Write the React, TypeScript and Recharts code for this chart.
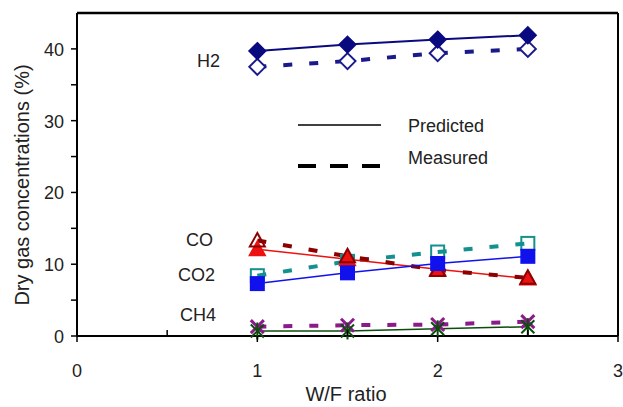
import { LineChart, Line, XAxis, YAxis, ReferenceLine } from 'recharts'

// W/F ratio and gas concentrations (%)
const wfRatio = [1, 1.5, 2, 2.5]
const h2Predicted = [39.7, 40.6, 41.3, 41.9]
const h2Measured = [37.5, 38.3, 39.4, 40.0]
const coPredicted = [12.1, 10.7, 9.3, 8.0]
const coMeasured = [13.3, 11.1, 9.2, 8.1]
const co2Predicted = [7.3, 8.8, 10.1, 11.1]
const co2Measured = [8.4, 10.4, 11.7, 12.9]
const ch4Predicted = [0.7, 0.7, 1.0, 1.3]
const ch4Measured = [1.3, 1.5, 1.6, 2.0]

const xTicks = [0, 0.5, 1, 1.5, 2, 2.5, 3]
const yTicks = [0, 5, 10, 15, 20, 25, 30, 35, 40]

const FONT = '"Liberation Sans", Arial, Helvetica, sans-serif'

const data = wfRatio.map((wf, i) => ({
  wf,
  h2p: h2Predicted[i],
  h2m: h2Measured[i],
  cop: coPredicted[i],
  com: coMeasured[i],
  co2p: co2Predicted[i],
  co2m: co2Measured[i],
  ch4p: ch4Predicted[i],
  ch4m: ch4Measured[i],
}))

type DotProps = { cx?: number; cy?: number; index?: number }

const diamond = (color: string, filled: boolean) => (p: DotProps) => {
  const { cx = 0, cy = 0 } = p
  const r = 8
  return (
    <polygon
      key={p.index}
      points={`${cx},${cy - r} ${cx + r},${cy} ${cx},${cy + r} ${cx - r},${cy}`}
      fill={filled ? color : '#fff'}
      stroke={color}
      strokeWidth={2}
    />
  )
}

const triangle = (color: string, filled: boolean) => (p: DotProps) => {
  const { cx = 0, cy = 0 } = p
  const r = 7.5
  return (
    <polygon
      key={p.index}
      points={`${cx},${cy - r} ${cx + r},${cy + r * 0.8} ${cx - r},${cy + r * 0.8}`}
      fill={filled ? color : 'none'}
      stroke={color}
      strokeWidth={2}
    />
  )
}

const square = (color: string, filled: boolean) => (p: DotProps) => {
  const { cx = 0, cy = 0 } = p
  const r = 6.5
  return (
    <rect
      key={p.index}
      x={cx - r}
      y={cy - r}
      width={r * 2}
      height={r * 2}
      fill={filled ? color : 'none'}
      stroke={color}
      strokeWidth={2}
    />
  )
}

const cross = (color: string, star: boolean) => (p: DotProps) => {
  const { cx = 0, cy = 0 } = p
  const r = 6.5
  return (
    <g key={p.index} stroke={color} strokeWidth={star ? 2 : 3}>
      <line x1={cx - r} y1={cy - r} x2={cx + r} y2={cy + r} />
      <line x1={cx - r} y1={cy + r} x2={cx + r} y2={cy - r} />
      {star && <line x1={cx} y1={cy - r - 2} x2={cx} y2={cy + r + 2} />}
    </g>
  )
}

function XTick(props: any) {
  const { x, y, payload } = props
  const major = Number.isInteger(payload.value)
  if (!major) return <line x1={x} y1={y} x2={x} y2={y - 6} stroke="#000" strokeWidth={1.5} />
  return (
    <g>
      <line x1={x} y1={y} x2={x} y2={y + 6} stroke="#000" strokeWidth={1.5} />
      <text x={x} y={y + 41} textAnchor="middle" fontSize={18} fontFamily={FONT} fill="#222">
        {payload.value}
      </text>
    </g>
  )
}

function YTick(props: any) {
  const { x, y, payload } = props
  const major = payload.value % 10 === 0
  return (
    <g>
      <line x1={x} y1={y} x2={x - 6} y2={y} stroke="#000" strokeWidth={1.5} />
      {major && (
        <text x={x - 13} y={y + 7} textAnchor="end" fontSize={18} fontFamily={FONT} fill="#222">
          {payload.value}
        </text>
      )}
    </g>
  )
}

const txt = { fontFamily: FONT, fontSize: 18, fill: '#222' }

export default function App() {
  return (
    <div style={{ position: 'absolute', left: 0, top: 0, width: 623, height: 407, background: '#fff' }}>
      <LineChart width={623} height={407} data={data} margin={{ top: 13, right: 5, bottom: 0, left: 0 }}>
        <XAxis
          dataKey="wf"
          type="number"
          domain={[0, 3]}
          ticks={xTicks}
          tickSize={0}
          tickMargin={0}
          tickLine={false}
          tick={<XTick />}
          height={71}
          stroke="#000"
          strokeWidth={2}
          interval={0}
        />
        <YAxis
          type="number"
          domain={[0, 45]}
          ticks={yTicks}
          tickSize={0}
          tickMargin={0}
          tickLine={false}
          tick={<YTick />}
          width={77}
          stroke="#000"
          strokeWidth={2}
          interval={0}
        />
        <ReferenceLine y={45} stroke="#000" strokeWidth={2.5} />
        <ReferenceLine x={3} stroke="#000" strokeWidth={2} />

        <Line dataKey="h2m" stroke="#1a1a8c" strokeWidth={4} strokeDasharray="9 17" dot={diamond('#1a1a8c', false)} isAnimationActive={false} />
        <Line dataKey="h2p" stroke="#0a0a80" strokeWidth={2} dot={diamond('#0a0a80', true)} isAnimationActive={false} />

        <Line dataKey="co2m" stroke="#139090" strokeWidth={4} strokeDasharray="9 17" dot={square('#139090', false)} isAnimationActive={false} />
        <Line dataKey="cop" stroke="#ee1111" strokeWidth={1.5} dot={triangle('#ee1111', true)} isAnimationActive={false} />
        <Line dataKey="com" stroke="#8b0000" strokeWidth={4} strokeDasharray="9 17" dot={triangle('#8b0000', false)} isAnimationActive={false} />
        <Line dataKey="co2p" stroke="#1111ee" strokeWidth={1.5} dot={square('#1111ee', true)} isAnimationActive={false} />

        <Line dataKey="ch4m" stroke="#8b1a8b" strokeWidth={4} strokeDasharray="9 17" dot={cross('#8b1a8b', false)} isAnimationActive={false} />
        <Line dataKey="ch4p" stroke="#0b4d0b" strokeWidth={1.5} dot={cross('#0b4d0b', true)} isAnimationActive={false} />
      </LineChart>

      <svg width={623} height={407} style={{ position: 'absolute', left: 0, top: 0, pointerEvents: 'none' }}>
        <text x={22} y={185} transform="rotate(-90 22 185)" textAnchor="middle" dominantBaseline="central" fontFamily={FONT} fontSize={20} fill="#222">
          Dry gas concentrations (%)
        </text>
        <text x={346} y={401} textAnchor="middle" fontFamily={FONT} fontSize={20} fill="#222">
          W/F ratio
        </text>
        <text x={197} y={67} {...txt}>H2</text>
        <text x={186} y={246} {...txt}>CO</text>
        <text x={178} y={281} {...txt}>CO2</text>
        <text x={180} y={321} {...txt}>CH4</text>

        <line x1={298} y1={125} x2={381} y2={125} stroke="#000" strokeWidth={1.5} />
        <text x={408} y={132} {...txt}>Predicted</text>
        <line x1={298} y1={166} x2={381} y2={166} stroke="#000" strokeWidth={4} strokeDasharray="18 14" />
        <text x={408} y={164} {...txt}>Measured</text>
      </svg>
    </div>
  )
}
